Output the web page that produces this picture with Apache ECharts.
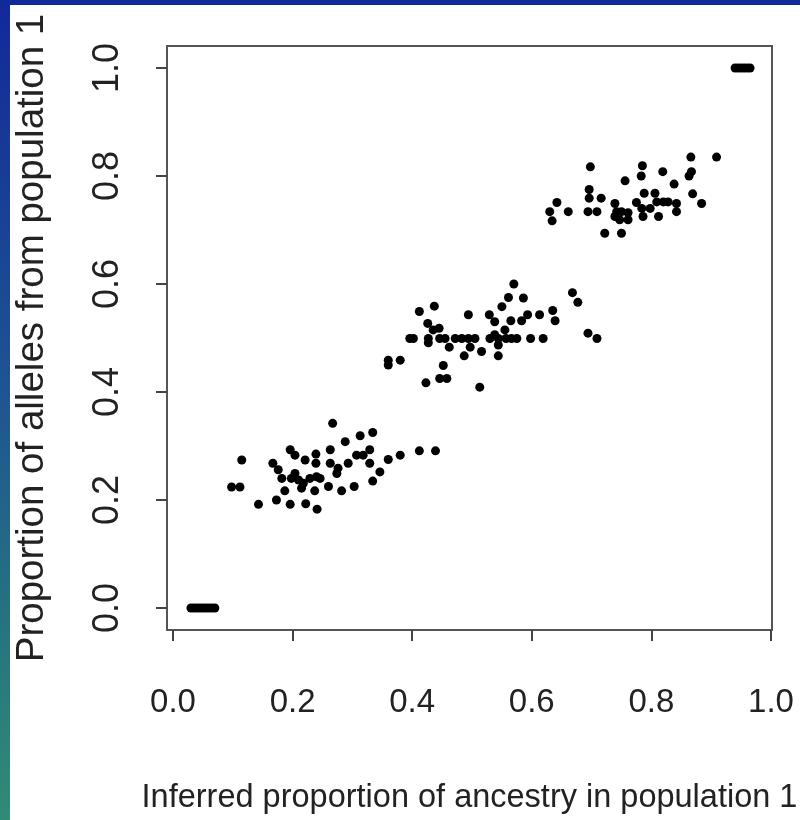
<!DOCTYPE html>
<html><head><meta charset="utf-8">
<script src="https://cdn.jsdelivr.net/npm/echarts@6/dist/echarts.min.js"></script>
<style>html,body{margin:0;padding:0;background:#fff}#chart{width:800px;height:820px}</style>
</head><body><div id="chart"></div>
<script>
const xTicks = [0.0, 0.2, 0.4, 0.6, 0.8, 1.0];
const yTicks = [0.0, 0.2, 0.4, 0.6, 0.8, 1.0];
const xTitle = 'Inferred proportion of ancestry in population 1';
const yTitle = 'Proportion of alleles from population 1';

// inferred ancestry (x) for each individual
const ancestry = [
  0.030,0.035,0.040,0.045,0.050,0.055,0.060,0.065,0.070,
  0.267,0.334,0.313,0.288,0.115,0.196,0.204,0.221,0.239,0.239,0.263,0.307,0.318,0.329,0.329,0.360,0.380,0.412,0.439,
  0.167,0.176,0.182,0.263,0.276,0.274,0.293,0.204,0.198,0.210,0.218,0.229,0.240,0.246,0.346,0.334,0.098,0.112,
  0.187,0.215,0.237,0.260,0.282,0.303,0.143,0.173,0.196,0.222,0.241,
  0.570,0.561,0.586,0.550,0.668,0.677,0.412,0.437,0.494,0.529,0.538,0.565,0.583,0.593,0.613,0.635,0.639,
  0.426,0.435,0.445,0.396,0.402,0.427,0.427,0.446,0.455,0.472,0.483,0.494,0.505,0.530,0.538,0.544,0.555,
  0.557,0.566,0.575,0.598,0.619,0.694,0.709,0.462,0.497,0.516,0.544,0.487,0.544,0.360,0.360,0.380,0.452,
  0.446,0.458,0.423,0.513,
  0.866,0.909,0.698,0.785,0.783,0.819,0.867,0.863,0.756,0.838,0.696,0.696,0.716,0.788,0.806,0.869,0.884,
  0.642,0.630,0.634,0.661,0.694,0.709,0.739,0.742,0.739,0.750,0.747,0.761,0.761,0.775,0.784,0.786,0.798,
  0.809,0.812,0.820,0.828,0.842,0.842,0.722,0.750,
  0.940,0.945,0.950,0.955,0.960,0.965
];
// proportion of alleles from population 1 (y) for each individual
const alleles = [
  0,0,0,0,0,0,0,0,0,
  0.342,0.325,0.319,0.308,0.274,0.293,0.283,0.274,0.285,0.268,0.293,0.283,0.283,0.293,0.268,0.275,0.283,0.291,0.291,
  0.268,0.256,0.240,0.268,0.259,0.249,0.268,0.249,0.240,0.237,0.231,0.240,0.243,0.240,0.252,0.235,0.224,0.224,
  0.217,0.222,0.217,0.225,0.217,0.225,0.192,0.200,0.192,0.193,0.183,
  0.600,0.575,0.574,0.558,0.584,0.566,0.549,0.559,0.543,0.543,0.530,0.532,0.532,0.543,0.543,0.551,0.532,
  0.527,0.515,0.518,0.499,0.499,0.499,0.491,0.499,0.499,0.499,0.499,0.499,0.499,0.499,0.506,0.499,0.515,
  0.499,0.499,0.499,0.499,0.499,0.509,0.499,0.483,0.483,0.475,0.487,0.467,0.467,0.459,0.450,0.459,0.449,
  0.425,0.425,0.417,0.409,
  0.835,0.835,0.817,0.819,0.800,0.808,0.808,0.800,0.791,0.785,0.775,0.759,0.759,0.768,0.768,0.767,0.749,
  0.751,0.734,0.717,0.734,0.734,0.734,0.749,0.734,0.725,0.734,0.719,0.732,0.719,0.751,0.740,0.725,0.740,
  0.752,0.725,0.752,0.752,0.749,0.734,0.694,0.694,
  1,1,1,1,1,1
];

const points = ancestry.map((x, i) => [x, alleles[i]]);
const fontFamily = '"Liberation Sans", Arial, Helvetica, sans-serif';
const fmt = v => Number(v).toFixed(1);

const chart = echarts.init(document.getElementById('chart'), null, {renderer: 'canvas'});
chart.setOption({
  animation: false,
  backgroundColor: '#ffffff',
  graphic: [
    {type: 'rect', left: 0, top: 0, shape: {width: 800, height: 5}, style: {fill: '#12299a'}, z: 10},
    {type: 'rect', left: 0, top: 0, shape: {width: 10, height: 820}, z: 10,
      style: {fill: new echarts.graphic.LinearGradient(0, 0, 0, 1, [
        {offset: 0, color: '#12299a'},
        {offset: 0.5, color: '#1f5790'},
        {offset: 1, color: '#2f8c74'}
      ])}}
  ],
  grid: {
    left: 167, top: 46, right: 28, bottom: 190,
    containLabel: false, outerBoundsMode: 'none',
    show: true, borderColor: '#555555', borderWidth: 2, backgroundColor: 'transparent'
  },
  xAxis: {
    type: 'value', min: -0.010, max: 1.0017,
    splitLine: {show: false},
    axisLine: {show: false, onZero: false},
    axisTick: {show: true, customValues: xTicks, length: 11, inside: false, lineStyle: {color: '#444', width: 2}},
    axisLabel: {show: true, customValues: xTicks, formatter: fmt, margin: 56,
      fontSize: 33, fontFamily: fontFamily, color: '#222'},
    name: xTitle, nameLocation: 'middle', nameGap: 152,
    nameTextStyle: {fontSize: 32.5, fontFamily: fontFamily, color: '#222'}
  },
  yAxis: {
    type: 'value', min: -0.0407, max: 1.0407,
    splitLine: {show: false},
    axisLine: {show: false, onZero: false},
    axisTick: {show: true, customValues: yTicks, length: 11, inside: false, lineStyle: {color: '#444', width: 2}},
    axisLabel: {show: true, customValues: yTicks, formatter: fmt, rotate: 90, margin: 41,
      fontSize: 36, fontFamily: fontFamily, color: '#222'},
    name: yTitle, nameLocation: 'middle', nameGap: 115, nameRotate: 90,
    nameTextStyle: {fontSize: 38.5, fontFamily: fontFamily, color: '#222'}
  },
  series: [{
    type: 'scatter',
    data: points,
    symbol: 'circle',
    symbolSize: 9,
    itemStyle: {color: '#000000', opacity: 1},
    silent: true
  }]
});
</script></body></html>
